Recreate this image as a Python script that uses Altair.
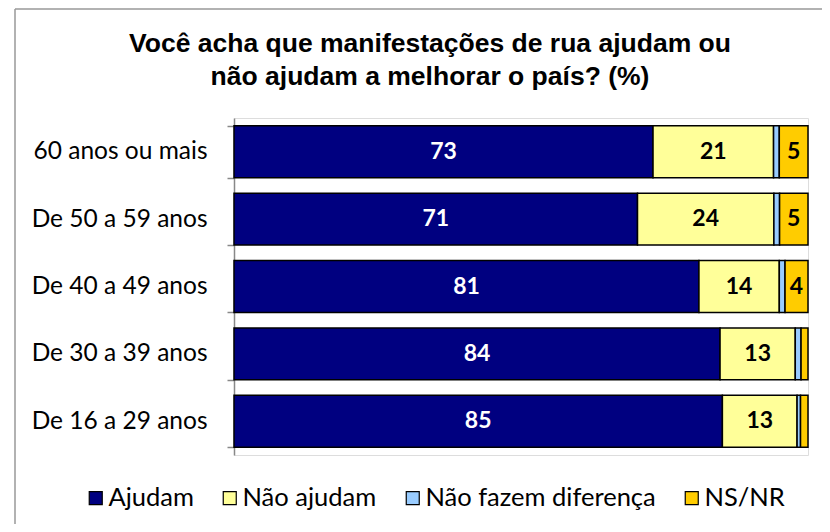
import altair as alt
import pandas as pd

categories = ["60 anos ou mais", "De 50 a 59 anos", "De 40 a 49 anos", "De 30 a 39 anos", "De 16 a 29 anos"]
series = ["Ajudam", "Não ajudam", "Não fazem diferença", "NS/NR"]
ajudam = [73, 71, 81, 84, 85]
nao_ajudam = [21, 24, 14, 13, 13]
nao_fazem = [1, 1, 1, 1, 0.6]
ns_nr = [5, 5, 4, 1.2, 1.3]
colors = ["#000080", "#FFFF99", "#99CCFF", "#FFCC00"]

rows = []
for i, c in enumerate(categories):
    for j, (s, vals) in enumerate(zip(series, [ajudam, nao_ajudam, nao_fazem, ns_nr])):
        rows.append({"cat": c, "series": s, "value": vals[i], "order": j})
df = pd.DataFrame(rows)

LABEL_FONT = "Lato"

base = alt.Chart(df).transform_joinaggregate(
    total="sum(value)", groupby=["cat"]
).transform_stack(
    stack="value", groupby=["cat"], sort=[alt.SortField("order")], as_=["v0", "v1"]
).transform_calculate(
    x0="datum.v0 / datum.total * 100",
    x1="datum.v1 / datum.total * 100",
    xm="(datum.v0 + datum.v1) / 2 / datum.total * 100",
)

y_enc = alt.Y(
    "cat:N",
    sort=categories,
    title=None,
    scale=alt.Scale(paddingInner=0.23, paddingOuter=0.115),
    axis=alt.Axis(
        tickBand="extent",
        tickSize=7,
        tickColor="#888888",
        domainColor="#888888",
        domainWidth=1.5,
        tickWidth=1.5,
        labelPadding=20,
        labelFont=LABEL_FONT,
        labelFontSize=24.5,
        labelColor="black",
        grid=False,
    ),
)

bars = base.mark_bar(stroke="black", strokeWidth=1.5).encode(
    x=alt.X("x0:Q", scale=alt.Scale(domain=[0, 100], nice=False), axis=None),
    x2="x1:Q",
    y=y_enc,
    color=alt.Color(
        "series:N",
        sort=series,
        scale=alt.Scale(domain=series, range=colors),
        legend=alt.Legend(
            title=None,
            orient="none",
            direction="horizontal",
            legendX=-151,
            legendY=367,
            symbolType="square",
            symbolSize=169,
            symbolStrokeColor="black",
            symbolStrokeWidth=1.2,
            labelFont=LABEL_FONT,
            labelFontSize=25.5,
            labelColor="black",
            labelOffset=0,
            labelLimit=500,
            columnPadding=23,
        ),
    ),
)

texts = base.transform_filter("datum.value >= 3").mark_text(
    font=LABEL_FONT, fontSize=23, fontWeight="bold"
).encode(
    x=alt.X("xm:Q"),
    y=alt.Y("cat:N", sort=categories),
    text=alt.Text("value:Q", format="d"),
    color=alt.condition("datum.series == 'Ajudam'", alt.value("white"), alt.value("black")),
)

frame_data = alt.Data(values=[{"k": 1}])
top_line = alt.Chart(frame_data).mark_rule(color="#999999", strokeWidth=1.5).encode(
    x=alt.value(-219), x2=alt.value(700), y=alt.value(-109)
)
left_line = alt.Chart(frame_data).mark_rule(color="#999999", strokeWidth=1.5).encode(
    x=alt.value(-219), y=alt.value(-109), y2=alt.value(500)
)

chart = alt.layer(top_line, left_line, bars, texts).properties(
    width=574,
    height=337,
    padding={"left": 226, "top": 110, "right": 14, "bottom": 69},
    autosize=alt.AutoSizeParams(type="none"),
    title=alt.TitleParams(
        text=["Você acha que manifestações de rua ajudam ou", "não ajudam a melhorar o país? (%)"],
        font="Liberation Sans",
        fontSize=26.5,
        fontWeight="bold",
        color="black",
        anchor="middle",
        dx=-91,
        offset=-82,
        lineHeight=33,
    ),
).configure_view(stroke=None).configure(background="white")

chart.save("out.html", embed_options={"renderer": "svg", "actions": False})
